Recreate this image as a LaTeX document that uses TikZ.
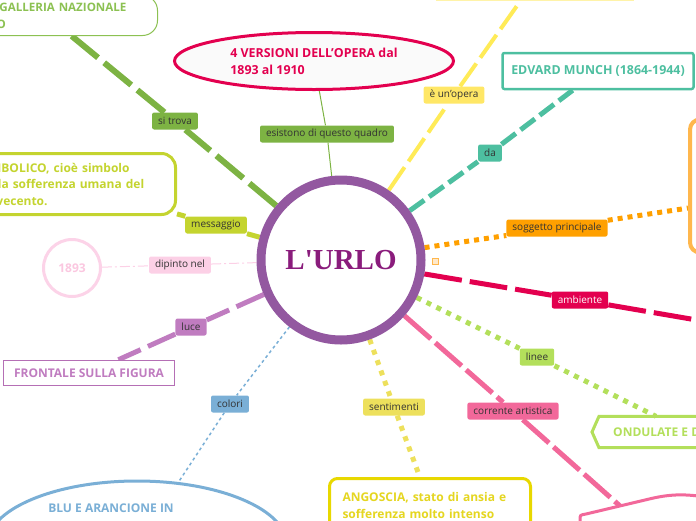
\documentclass[tikz,border=0pt]{standalone}
\usepackage{fontspec}
\setmainfont{Open Sans}
\newfontfamily\serifb{Liberation Serif}
\usetikzlibrary{shapes.geometric,backgrounds,calc}
\definecolor{purp}{HTML}{9358A0}
\definecolor{urlo}{HTML}{8A1C7C}
\definecolor{grn}{HTML}{7DB343}
\definecolor{grntext}{HTML}{8CC152}
\definecolor{crim}{HTML}{E3004F}
\definecolor{verfill}{HTML}{FAFAFA}
\definecolor{ylwline}{HTML}{FFEB57}
\definecolor{ylw}{HTML}{FFE766}
\definecolor{ylwpale}{HTML}{FFF3A8}
\definecolor{teal}{HTML}{4DBFA0}
\definecolor{org}{HTML}{FFA000}
\definecolor{orgpale}{HTML}{FFB74D}
\definecolor{lgrn}{HTML}{B3DF5B}
\definecolor{pinkc}{HTML}{F2689A}
\definecolor{ylwthree}{HTML}{EDE05C}
\definecolor{ylwtwo}{HTML}{E8D800}
\definecolor{ylwtext}{HTML}{E5D620}
\definecolor{bluec}{HTML}{7AAFD6}
\definecolor{purpl}{HTML}{C07CC0}
\definecolor{purpbord}{HTML}{B56FB5}
\definecolor{pinkl}{HTML}{FCD0E6}
\definecolor{pinkbord}{HTML}{FCD3E8}
\definecolor{pinktext}{HTML}{FBC7E0}
\definecolor{lime}{HTML}{C4D42F}
\definecolor{txtdark}{HTML}{333333}
\begin{document}
\begin{tikzpicture}[x=1pt,y=-1pt,
  lbl/.style={rounded corners=2pt, inner xsep=6pt, inner ysep=0pt, minimum height=17pt,
    font=\fontsize{10}{12}\selectfont, text=txtdark},
  boxfont/.style={font=\bfseries\fontsize{12}{16.5}\selectfont}
]
\useasboundingbox (0,0) rectangle (696,520);
\clip (0,0) rectangle (696,520);

% centre
\node[circle, draw=purp, line width=9pt, fill=white, minimum size=160pt, inner sep=0pt,
  font=\serifb\bfseries\fontsize{29}{30}\selectfont, text=urlo] (c) at (341,260) {L'URLO};

% galleria
\node[draw=grntext, line width=1pt, rounded corners=15pt, fill=white, anchor=south east,
  text width=191pt, align=left, inner xsep=8pt, minimum height=40pt, text=grntext,
  font=\bfseries\fontsize{11.6}{17}\selectfont] (gal) at (158,36) {NELLA GALLERIA NAZIONALE\\DI OSLO};
\coordinate (galend) at ($(gal.south west)!0.585!(gal.south east)$);
\node[lbl, fill=grn] (lstr) at (175,121) {si trova};

% versioni
\node[ellipse, draw=crim, line width=3pt, fill=verfill, minimum width=279pt, minimum height=57pt,
  inner sep=0pt, align=left, text=crim, font=\bfseries\fontsize{12.4}{17}\selectfont] (ver) at (314,61)
  {4 VERSIONI DELL'OPERA dal\\1893 al 1910};
\node[lbl, fill=grn] (les) at (327,134) {esistono di questo quadro};

% top yellow
\node[draw=ylwpale, line width=1.5pt, fill=white, minimum width=196pt, minimum height=40pt, anchor=south] (top) at (535,1) {};
\node[lbl, fill=ylw] (lop) at (454,95) {è un'opera};

% munch
\node[draw=teal, line width=2.5pt, rounded corners=2pt, fill=white, minimum width=191pt, minimum height=36pt,
  text=teal, font=\bfseries\fontsize{12.4}{14}\selectfont] (mun) at (598,71) {EDVARD MUNCH (1864-1944)};
\node[lbl, fill=teal] (lda) at (490,153) {da};

% orange
\node[draw=orgpale, line width=4pt, rounded corners=10pt, fill=white, minimum width=100pt, minimum height=133pt] (org) at (740,186) {};
\node[lbl, fill=org] (lsog) at (557,228) {soggetto principale};
\node[draw=orgpale, line width=1pt, minimum size=6pt, inner sep=0pt, fill=orgpale!30] (icon) at (435,261) {};

% ambiente
\node[lbl, fill=crim, text=white] (lamb) at (580,300) {ambiente};
\coordinate (ambend) at (720,324);

% ondulate
\node[anchor=west, inner xsep=14pt, inner ysep=0pt, minimum width=112pt, minimum height=31pt, text=lgrn,
  boxfont] (ond) at (599,432) {ONDULATE E D};
\draw[lgrn, line width=3pt] ($(ond.north east)+(60,0)$) -- (ond.north west) -- ($(ond.west)+(-7,0)$)
  -- (ond.south west) -- ($(ond.south east)+(60,0)$);
\coordinate (ondend) at ($(ond.north west)+(57,0)$);
\node[lbl, fill=lgrn] (llin) at (537,357) {linee};

% corrente artistica shape
\draw[pinkc, line width=3pt, fill=white] (580,540) -- (580,520) .. controls (580,515) .. (586,514)
  -- (645,500) .. controls (665,495) and (680,493) .. (705,497) -- (705,540);
\coordinate (corr) at (620,506);
\node[lbl, fill=pinkc] (lcor) at (513,411) {corrente artistica};

% angoscia
\node[draw=ylwtwo, line width=3pt, rounded corners=8pt, fill=white, anchor=north, text width=175pt,
  inner xsep=13pt, inner ysep=14pt, align=left, text=ylwtext, boxfont] (ang) at (430,477)
  {ANGOSCIA, stato di ansia e\\sofferenza molto intenso};
\coordinate (angend) at ($(ang.north west)!0.45!(ang.north east)$);
\node[lbl, fill=ylwthree] (lsen) at (394,407) {sentimenti};

% blu
\node[ellipse, draw=bluec, line width=3pt, fill=white, minimum width=300pt, minimum height=128pt] (blu) at (137,545) {};
\node[text=bluec, boxfont, inner sep=0pt] (blut) at (111,508) {BLU E ARANCIONE IN};
\node[lbl, fill=bluec] (lcol) at (230,404) {colori};

% frontale
\node[draw=purpbord, line width=1.5pt, fill=white, minimum width=171pt, minimum height=25pt,
  text=purpl, boxfont] (fro) at (89,373) {FRONTALE SULLA FIGURA};
\node[lbl, fill=purpl] (lluc) at (191,327) {luce};

% 1893
\node[circle, draw=pinkbord, line width=3pt, fill=white, minimum size=57pt, text=pinktext, boxfont] (y93) at (72,268) {1893};
\node[lbl, fill=pinkl] (ldip) at (180,265) {dipinto nel};

% simbolico
\node[draw=lime, line width=3pt, rounded corners=14pt, fill=white, anchor=north east, text width=184pt,
  inner xsep=12pt, align=left, minimum height=61pt, text=lime, boxfont] (sim) at (177,152)
  {SIMBOLICO, cioè simbolo\\della sofferenza umana del\\Novecento.};
\node[lbl, fill=lime] (lmes) at (216,225) {messaggio};

\begin{pgfonlayer}{background}
\draw[grn, line width=6pt, dash pattern=on 35pt off 8pt] (c) -- (lstr) -- (galend);
\draw[grn, line width=1pt] (ver) -- (les) -- (c);
\draw[ylwline, line width=4pt, dash pattern=on 28pt off 7pt] (c) -- (lop) -- (top);
\draw[teal, line width=5pt, dash pattern=on 18pt off 6pt] (c) -- (lda) -- (mun);
\draw[org, line width=5pt, dash pattern=on 5pt off 5pt] (c) -- (lsog) -- (org.203);
\draw[crim, line width=5pt, dash pattern=on 38pt off 8pt] (c) -- (lamb) -- (ambend);
\draw[lgrn, line width=5pt, dash pattern=on 5pt off 6pt] (c) -- (llin) -- (ondend);
\draw[pinkc, line width=5pt, dash pattern=on 35pt off 6pt] (c) -- (lcor) -- (corr);
\draw[ylwthree, line width=5pt, dash pattern=on 5pt off 6pt] (c) -- (lsen) -- (angend);
\draw[bluec, line width=1.5pt, dash pattern=on 3pt off 3pt] (c) -- (lcol) -- (blu);
\draw[purpl, line width=5pt, dash pattern=on 30pt off 8pt] (c) -- (lluc) -- (fro);
\draw[pinkl, line width=1pt, dash pattern=on 10pt off 3pt on 2pt off 3pt] (y93) -- (ldip) -- (c);
\draw[lime, line width=5pt] (sim) -- (lmes) -- (c);
\end{pgfonlayer}
\end{tikzpicture}
\end{document}
